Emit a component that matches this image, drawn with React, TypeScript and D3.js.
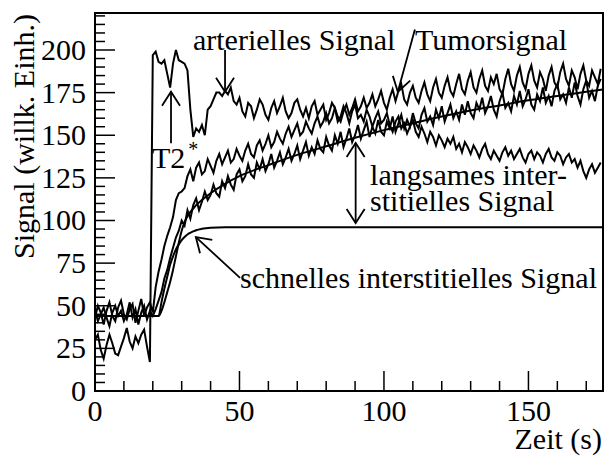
import React from "react";
import * as d3 from "d3";

// sampling: one value per second, t = 0 … 175 s
const arterial = [
  30, 33, 24, 19, 27, 33, 28, 22, 21, 26,
  31, 37, 29, 25, 32, 28, 33, 36, 26, 17,
  197, 199, 193, 192, 194, 186, 178, 192, 200, 194,
  193, 192, 188, 165, 149, 154, 152, 156, 150, 165,
  167, 171, 175, 175, 173, 176, 174, 178, 170, 168,
  172, 164, 161, 169, 167, 160, 165, 171, 168, 162,
  159, 166, 170, 163, 167, 172, 164, 160, 163, 169,
  171, 165, 161, 166, 160, 167, 170, 162, 165, 168,
  159, 163, 169, 166, 158, 161, 167, 163, 157, 164,
  168, 160, 162, 158, 165, 161, 155, 160, 164, 157,
  159, 163, 156, 152, 158, 161, 154, 157, 151, 155,
  159, 152, 149, 155, 151, 146, 152, 149, 144, 150,
  147, 143, 148, 145, 149, 142, 145, 140, 146, 143,
  139, 144, 141, 137, 142, 145, 139, 136, 141, 138,
  135, 140, 143, 138, 141, 136, 139, 142, 137, 134,
  139, 141, 136, 140, 138, 134, 139, 142, 137, 135,
  140, 138, 133, 137, 139, 134, 136, 131, 135, 129,
  125, 130, 133, 128, 131, 134,
];

const tumor = [
  43, 50, 46, 39, 47, 52, 44, 41, 49, 53,
  45, 42, 48, 51, 40, 47, 54, 44, 49, 52,
  46, 61, 70, 77, 85, 91, 96, 102, 112, 116,
  117, 119, 126, 130, 123, 131, 134, 127, 129, 136,
  132, 128, 135, 139, 133, 137, 141, 134, 136, 142,
  138, 135, 141, 145, 139, 137, 144, 147, 141, 145,
  150, 143, 146, 152, 148, 145, 151, 155, 149, 153,
  157, 150, 152, 158, 154, 151, 157, 161, 155, 158,
  163, 157, 160, 166, 161, 158, 164, 168, 162, 166,
  171, 164, 167, 172, 166, 169, 174, 167, 171, 176,
  169, 165, 172, 177, 170, 176, 180, 171, 168, 175,
  179, 172, 169, 176, 181, 174, 170, 178, 183, 175,
  172, 179, 184, 176, 173, 180, 186, 177, 174, 182,
  187, 178, 175, 183, 188, 179, 176, 184, 180, 186,
  177, 174, 183, 189, 180, 176, 185, 190, 181, 177,
  186, 191, 182, 178, 187, 183, 176, 185, 190, 181,
  178, 187, 192, 183, 179, 188, 184, 177, 186, 191,
  182, 179, 188, 184, 180, 189,
];

const slowNoisy = [
  47, 41, 45, 49, 43, 38, 46, 50, 44, 47,
  41, 45, 52, 43, 48, 39, 46, 50, 42, 47,
  44, 48, 53, 58, 66, 71, 78, 84, 90, 94,
  100, 97, 106, 101, 109, 113, 106, 111, 117, 112,
  115, 121, 116, 114, 123, 119, 126, 121, 118, 127,
  130, 123, 126, 133, 127, 125, 134, 130, 136, 129,
  133, 139, 131, 135, 140, 133, 137, 142, 135, 139,
  144, 136, 141, 146, 138, 143, 139, 147, 142, 140,
  149, 144, 141, 150, 145, 152, 143, 148, 154, 146,
  150, 156, 148, 153, 158, 149, 155, 151, 159, 152,
  150, 158, 154, 161, 152, 157, 162, 154, 159, 155,
  163, 157, 154, 162, 166, 158, 161, 156, 165, 160,
  167, 158, 163, 168, 160, 164, 159, 168, 162, 170,
  163, 160, 169, 165, 172, 163, 167, 173, 165, 161,
  170, 175, 166, 169, 164, 173, 168, 176, 167, 171,
  177, 168, 165, 174, 170, 178, 169, 173, 167, 176,
  180, 171, 174, 169, 178, 172, 181, 173, 168, 177,
  182, 172, 176, 170, 179, 183,
];

// smooth model curves (knots)
const fitTimes = [0, 22, 23, 24, 25, 26, 27, 28, 29, 30, 31, 32, 33, 34, 35, 37, 40, 45, 50, 60, 70, 80, 90, 100, 110, 120, 130, 140, 150, 160, 170, 175.8];
const fastFit = [44, 44, 52, 60, 67, 74, 79, 83, 86, 88.5, 90.3, 91.8, 92.8, 93.6, 94.3, 95.1, 95.7, 96, 96, 96, 96, 96, 96, 96, 96, 96, 96, 96, 96, 96, 96, 96];
const slowFit = [44, 44, 47, 52, 58, 64, 71, 79, 87, 94, 99, 102.5, 105, 107, 109, 112, 116, 121.5, 126, 132.5, 138.5, 143.5, 148.5, 153, 157, 161, 164.5, 167.5, 170.5, 173, 175.5, 176.8];

// tick values
const yMajor = [0, 25, 50, 75, 100, 125, 150, 175, 200];
const xMajor = [0, 50, 100, 150];

// annotations (data units)
const labels = [
  { text: "arterielles Signal", t: 33.9, v: 200 },
  { text: "Tumorsignal", t: 110.7, v: 200 },
  { text: "langsames inter-", t: 95.2, v: 120.8 },
  { text: "stitielles Signal", t: 95.2, v: 105.3 },
  { text: "schnelles interstitielles Signal", t: 50.2, v: 60.4 },
];
const arrows = [
  { t0: 45, v0: 200, t1: 45, v1: 175.5, both: false },
  { t0: 110.7, v0: 212, t1: 104.8, v1: 175.5, both: false },
  { t0: 26.3, v0: 145.3, t1: 26.3, v1: 175.5, both: false },
  { t0: 90.2, v0: 98.5, t1: 90.2, v1: 145.5, both: true },
  { t0: 50.2, v0: 66.3, t1: 34.9, v1: 90.3, both: false },
];

const W = 605, H = 456;
const FONT = "'Liberation Serif', 'Times New Roman', serif";

export default function App() {
  const x = d3.scaleLinear().domain([0, 175.8]).range([95, 603]);
  const y = d3.scaleLinear().domain([0, 221.7]).range([391, 13]);

  const line = d3.line<number>().x((_, i) => x(i)).y((d) => y(d));
  const fitLine = (vals: number[]) =>
    d3.line<number>().x((_, i) => x(fitTimes[i])).y((d) => y(d)).curve(d3.curveMonotoneX)(vals) || "";

  const yMinor = d3.range(0, 221, 5).filter((v) => v % 25 !== 0);
  const xMinor = d3.range(0, 176, 10).filter((v) => v % 50 !== 0);

  const head = (tipX: number, tipY: number, fromX: number, fromY: number) => {
    const dx = fromX - tipX, dy = fromY - tipY;
    const len = Math.hypot(dx, dy);
    const ux = dx / len, uy = dy / len;
    const bx = tipX + ux * 14, by = tipY + uy * 14;
    const px = -uy * 9, py = ux * 9;
    return `M${bx + px},${by + py}L${tipX},${tipY}L${bx - px},${by - py}`;
  };

  return (
    <svg width={W} height={H} style={{ position: "absolute", left: 0, top: 0, background: "#fff" }} fontFamily={FONT}>
      <rect width={W} height={H} fill="#fff" />
      {/* data */}
      <g fill="none" stroke="#000" strokeWidth={2} strokeLinejoin="miter">
        <path d={line(arterial) || ""} />
        <path d={line(tumor) || ""} />
        <path d={line(slowNoisy) || ""} />
        <path d={fitLine(fastFit)} />
        <path d={fitLine(slowFit)} />
      </g>
      {/* frame */}
      <rect x={95} y={13} width={508} height={378} fill="none" stroke="#000" strokeWidth={2} />
      {/* ticks */}
      <g stroke="#000" strokeWidth={1.5}>
        {yMajor.map((v) => (
          <line key={"ym" + v} x1={95} x2={115} y1={y(v)} y2={y(v)} />
        ))}
        {yMinor.map((v) => (
          <line key={"yn" + v} x1={95} x2={105} y1={y(v)} y2={y(v)} />
        ))}
        {xMajor.map((v) => (
          <line key={"xm" + v} x1={x(v)} x2={x(v)} y1={391} y2={371} />
        ))}
        {xMinor.map((v) => (
          <line key={"xn" + v} x1={x(v)} x2={x(v)} y1={391} y2={381} />
        ))}
      </g>
      <g fontSize={30} fill="#000">
        {yMajor.map((v) => (
          <text key={"yl" + v} x={86} y={y(v) + 10} textAnchor="end">{v}</text>
        ))}
        {xMajor.map((v) => (
          <text key={"xl" + v} x={x(v)} y={421} textAnchor="middle">{v}</text>
        ))}
        <text x={602} y={449} textAnchor="end">Zeit (s)</text>
        <text transform="translate(34,14) rotate(-90)" textAnchor="end">Signal (willk. Einh.)</text>
        {labels.map((l) => (
          <text key={l.text} x={x(l.t)} y={y(l.v)} textLength={l.text.startsWith("schnelles") ? 357 : undefined} lengthAdjust="spacingAndGlyphs">{l.text}</text>
        ))}
        <text x={x(19.7)} y={y(130.8)}>T2<tspan fontSize={20} dx={3} dy={-12}>*</tspan></text>
      </g>
      <g fill="none" stroke="#000" strokeWidth={1.8}>
        {arrows.map((a, i) => {
          const X0 = x(a.t0), Y0 = y(a.v0), X1 = x(a.t1), Y1 = y(a.v1);
          return (
            <g key={"ar" + i}>
              <path d={`M${X0},${Y0}L${X1},${Y1}`} />
              <path d={head(X1, Y1, X0, Y0)} />
              {a.both && <path d={head(X0, Y0, X1, Y1)} />}
            </g>
          );
        })}
      </g>
    </svg>
  );
}
